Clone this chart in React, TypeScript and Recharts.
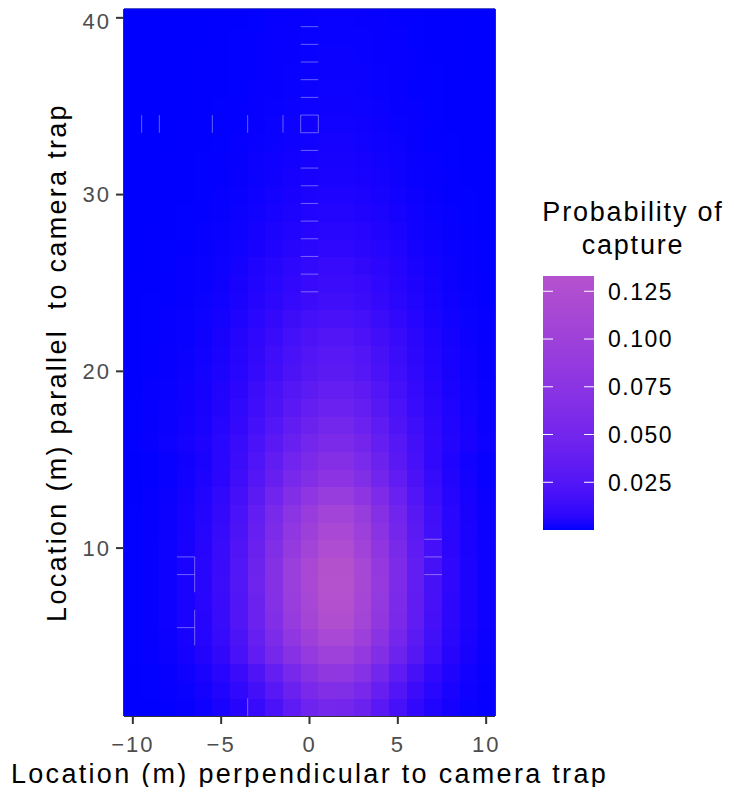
import React from 'react';
import { ScatterChart, Scatter, XAxis, YAxis, ReferenceLine } from 'recharts';

// Grid of locations (metres)
const xLocations = [-10, -9, -8, -7, -6, -5, -4, -3, -2, -1, 0, 1, 2, 3, 4, 5, 6, 7, 8, 9, 10];
const yLocations = [
  1, 2, 3, 4, 5, 6, 7, 8, 9, 10, 11, 12, 13, 14, 15, 16, 17, 18, 19, 20,
  21, 22, 23, 24, 25, 26, 27, 28, 29, 30, 31, 32, 33, 34, 35, 36, 37, 38, 39, 40,
];

// Probability of capture, in units of 1e-4; one row per y location (y = 1 first),
// one column per x location (x = -10 first)
const captureProbability = [
  [1, 1, 3, 6, 13, 29, 60, 114, 208, 328, 452, 520, 515, 437, 302, 177, 94, 44, 21, 9, 4],
  [1, 2, 4, 9, 20, 42, 87, 163, 280, 423, 566, 650, 645, 548, 390, 240, 130, 65, 29, 13, 6],
  [1, 2, 6, 14, 30, 62, 125, 230, 377, 549, 709, 820, 815, 693, 504, 324, 185, 90, 41, 17, 7],
  [2, 4, 10, 22, 47, 95, 190, 340, 520, 710, 860, 1000, 1000, 850, 650, 450, 270, 140, 60, 25, 10],
  [2, 5, 11, 25, 54, 108, 217, 388, 593, 809, 980, 1140, 1140, 969, 741, 513, 308, 160, 68, 29, 11],
  [2, 5, 13, 28, 59, 120, 239, 428, 655, 895, 1084, 1260, 1260, 1071, 819, 567, 340, 176, 76, 32, 13],
  [2, 5, 13, 29, 61, 124, 247, 442, 676, 923, 1118, 1300, 1300, 1105, 845, 585, 351, 182, 78, 33, 13],
  [2, 5, 13, 29, 63, 126, 253, 452, 692, 944, 1144, 1330, 1330, 1131, 865, 599, 359, 186, 80, 33, 13],
  [2, 5, 13, 29, 62, 125, 251, 449, 686, 937, 1135, 1320, 1320, 1122, 858, 594, 356, 185, 79, 33, 13],
  [2, 5, 12, 27, 58, 117, 234, 418, 640, 873, 1058, 1230, 1230, 1046, 800, 554, 332, 172, 74, 31, 12],
  [2, 5, 11, 25, 54, 108, 217, 388, 593, 809, 980, 1140, 1140, 969, 741, 513, 308, 160, 68, 29, 11],
  [2, 4, 11, 23, 50, 101, 201, 360, 551, 753, 912, 1060, 1060, 901, 689, 477, 286, 148, 64, 27, 11],
  [1, 4, 9, 20, 43, 87, 175, 313, 478, 653, 791, 920, 920, 782, 598, 414, 248, 129, 55, 23, 9],
  [1, 3, 8, 17, 36, 72, 144, 258, 395, 540, 654, 760, 760, 646, 494, 342, 205, 106, 46, 19, 8],
  [1, 3, 7, 15, 31, 64, 127, 228, 348, 476, 576, 670, 670, 570, 436, 302, 181, 94, 40, 17, 7],
  [2, 6, 12, 20, 35, 64, 116, 197, 296, 406, 505, 580, 580, 499, 383, 267, 162, 93, 49, 26, 12],
  [2, 5, 10, 18, 30, 55, 100, 170, 255, 350, 435, 500, 500, 430, 330, 230, 140, 80, 43, 23, 10],
  [2, 4, 9, 15, 26, 47, 86, 146, 219, 301, 374, 430, 430, 370, 284, 198, 120, 69, 37, 19, 9],
  [1, 4, 7, 13, 22, 41, 74, 126, 189, 259, 322, 370, 370, 318, 244, 170, 104, 59, 31, 17, 7],
  [1, 3, 6, 11, 19, 34, 62, 105, 158, 217, 270, 310, 310, 267, 205, 143, 87, 50, 26, 14, 6],
  [1, 3, 6, 10, 17, 31, 56, 95, 143, 196, 244, 280, 280, 241, 185, 129, 78, 45, 24, 13, 6],
  [1, 2, 5, 8, 14, 26, 48, 82, 122, 168, 209, 240, 240, 206, 158, 110, 67, 38, 20, 11, 5],
  [1, 2, 4, 7, 12, 21, 39, 66, 99, 137, 170, 195, 195, 168, 129, 90, 55, 31, 17, 9, 4],
  [1, 2, 3, 5, 9, 17, 30, 51, 77, 105, 131, 150, 150, 129, 99, 69, 42, 24, 13, 7, 3],
  [1, 1, 3, 4, 8, 14, 26, 44, 65, 90, 111, 128, 128, 110, 84, 59, 36, 20, 11, 6, 3],
  [0, 1, 2, 4, 7, 12, 22, 37, 56, 77, 96, 110, 110, 95, 73, 51, 31, 18, 9, 5, 2],
  [0, 1, 2, 3, 5, 9, 16, 27, 41, 56, 70, 80, 80, 69, 53, 37, 22, 13, 7, 4, 2],
  [0, 1, 1, 2, 4, 7, 12, 21, 32, 43, 54, 62, 62, 53, 41, 29, 17, 10, 5, 3, 1],
  [0, 0, 1, 2, 3, 5, 10, 16, 24, 34, 42, 48, 48, 41, 32, 22, 13, 8, 4, 2, 1],
  [0, 0, 1, 1, 2, 4, 8, 13, 19, 27, 33, 38, 38, 33, 25, 17, 11, 6, 3, 2, 1],
  [0, 0, 1, 1, 2, 3, 6, 10, 15, 21, 26, 30, 30, 26, 20, 14, 8, 5, 3, 1, 1],
  [0, 0, 1, 1, 2, 3, 5, 9, 13, 18, 22, 25, 25, 22, 17, 12, 7, 4, 2, 1, 1],
  [0, 0, 0, 1, 1, 2, 4, 7, 10, 14, 17, 20, 20, 17, 13, 9, 6, 3, 2, 1, 0],
  [0, 0, 0, 1, 1, 2, 3, 6, 9, 12, 15, 17, 17, 15, 11, 8, 5, 3, 1, 1, 0],
  [0, 0, 0, 0, 1, 2, 3, 5, 7, 10, 12, 14, 14, 12, 9, 6, 4, 2, 1, 1, 0],
  [0, 0, 0, 0, 1, 1, 2, 4, 6, 8, 10, 12, 12, 10, 8, 6, 3, 2, 1, 1, 0],
  [0, 0, 0, 0, 1, 1, 2, 3, 5, 7, 9, 10, 10, 9, 7, 5, 3, 2, 1, 0, 0],
  [0, 0, 0, 0, 1, 1, 2, 3, 5, 6, 8, 9, 9, 8, 6, 4, 3, 1, 1, 0, 0],
  [0, 0, 0, 0, 0, 1, 2, 3, 4, 6, 7, 8, 8, 7, 5, 4, 2, 1, 1, 0, 0],
  [0, 0, 0, 0, 0, 1, 1, 2, 4, 5, 6, 7, 7, 6, 5, 3, 2, 1, 1, 0, 0],
];
const PROBABILITY_UNIT = 1e-4;

// Faint tile seams, as [x1, y1, x2, y2] in data units
const tileSeams = [
  [-0.5, 39.5, 0.5, 39.5], [-0.5, 38.5, 0.5, 38.5], [-0.5, 37.5, 0.5, 37.5],
  [-0.5, 36.5, 0.5, 36.5], [-0.5, 35.5, 0.5, 35.5], [-0.5, 34.5, 0.5, 34.5],
  [-0.5, 33.5, 0.5, 33.5], [-0.5, 33.5, -0.5, 34.5], [0.5, 33.5, 0.5, 34.5],
  [-9.5, 33.5, -9.5, 34.5], [-8.5, 33.5, -8.5, 34.5], [-5.5, 33.5, -5.5, 34.5],
  [-3.5, 33.5, -3.5, 34.5], [-1.5, 33.5, -1.5, 34.5],
  [-0.5, 32.5, 0.5, 32.5], [-0.5, 31.5, 0.5, 31.5], [-0.5, 30.5, 0.5, 30.5],
  [-0.5, 29.5, 0.5, 29.5], [-0.5, 28.5, 0.5, 28.5], [-0.5, 27.5, 0.5, 27.5],
  [-0.5, 26.5, 0.5, 26.5], [-0.5, 25.5, 0.5, 25.5], [-0.5, 24.5, 0.5, 24.5],
  [6.5, 10.5, 7.5, 10.5], [6.5, 9.5, 7.5, 9.5], [6.5, 8.5, 7.5, 8.5],
  [-7.5, 9.5, -6.5, 9.5], [-7.5, 8.5, -6.5, 8.5], [-6.5, 7.5, -6.5, 9.5],
  [-7.5, 5.5, -6.5, 5.5], [-6.5, 4.5, -6.5, 6.5],
  [-3.5, 0.5, -3.5, 1.5],
];

const xTicks = [-10, -5, 0, 5, 10];
const yTicks = [10, 20, 30, 40];
const legendTicks = [0.025, 0.05, 0.075, 0.1, 0.125];
const legendLabels = ['0.025', '0.050', '0.075', '0.100', '0.125'];

const LOW_COLOR = '#0000FF';
const HIGH_COLOR = '#B452CD';

// ---- colour ramp interpolated in CIELAB ----
const WHITE = [0.95047, 1, 1.08883];
const toLinear = (c: number) => {
  const v = c / 255;
  return v <= 0.04045 ? v / 12.92 : Math.pow((v + 0.055) / 1.055, 2.4);
};
const fromLinear = (c: number) => {
  const v = Math.min(1, Math.max(0, c));
  const s = v <= 0.0031308 ? 12.92 * v : 1.055 * Math.pow(v, 1 / 2.4) - 0.055;
  return Math.round(s * 255);
};
const fLab = (t: number) => (t > 216 / 24389 ? Math.cbrt(t) : (24389 / 27 * t + 16) / 116);
const fLabInv = (t: number) => (t * t * t > 216 / 24389 ? t * t * t : (116 * t - 16) / (24389 / 27));

function hexToLab(hex: string): [number, number, number] {
  const r = toLinear(parseInt(hex.slice(1, 3), 16));
  const g = toLinear(parseInt(hex.slice(3, 5), 16));
  const b = toLinear(parseInt(hex.slice(5, 7), 16));
  const X = 0.4124564 * r + 0.3575761 * g + 0.1804375 * b;
  const Y = 0.2126729 * r + 0.7151522 * g + 0.072175 * b;
  const Z = 0.0193339 * r + 0.119192 * g + 0.9503041 * b;
  const fx = fLab(X / WHITE[0]);
  const fy = fLab(Y / WHITE[1]);
  const fz = fLab(Z / WHITE[2]);
  return [116 * fy - 16, 500 * (fx - fy), 200 * (fy - fz)];
}

function labToHex(L: number, a: number, bb: number): string {
  const fy = (L + 16) / 116;
  const fx = fy + a / 500;
  const fz = fy - bb / 200;
  const X = WHITE[0] * fLabInv(fx);
  const Y = WHITE[1] * fLabInv(fy);
  const Z = WHITE[2] * fLabInv(fz);
  const r = 3.2404542 * X - 1.5371385 * Y - 0.4985314 * Z;
  const g = -0.969266 * X + 1.8760108 * Y + 0.041556 * Z;
  const b = 0.0556434 * X - 0.2040259 * Y + 1.0572252 * Z;
  const h = (n: number) => fromLinear(n).toString(16).padStart(2, '0');
  return `#${h(r)}${h(g)}${h(b)}`;
}

const LOW_LAB = hexToLab(LOW_COLOR);
const HIGH_LAB = hexToLab(HIGH_COLOR);

const allValues = captureProbability.flat().map((v) => v * PROBABILITY_UNIT);
const FILL_MIN = Math.min(...allValues);
const FILL_MAX = Math.max(...allValues);

function fillFor(p: number): string {
  const t = Math.min(1, Math.max(0, (p - FILL_MIN) / (FILL_MAX - FILL_MIN)));
  return labToHex(
    LOW_LAB[0] + (HIGH_LAB[0] - LOW_LAB[0]) * t,
    LOW_LAB[1] + (HIGH_LAB[1] - LOW_LAB[1]) * t,
    LOW_LAB[2] + (HIGH_LAB[2] - LOW_LAB[2]) * t,
  );
}

// ---- records for the two scatter layers ----
const tiles = yLocations.flatMap((y, row) =>
  xLocations.map((x, col) => ({ x, y, p: captureProbability[row][col] * PROBABILITY_UNIT })),
);
const seams = tileSeams.map(([x1, y1, x2, y2]) => ({
  x: (x1 + x2) / 2,
  y: (y1 + y2) / 2,
  dx: x2 - x1,
  dy: y2 - y1,
}));

// ---- layout ----
const CHART_W = 718;
const CHART_H = 779;
const MARGIN = { top: 1, right: 231, bottom: 0, left: 0 };
const Y_AXIS_W = 116;
const X_AXIS_H = 71;
const X_DOMAIN: [number, number] = [-10.5, 10.5];
const Y_DOMAIN: [number, number] = [0.5, 40.5];
const PLOT_LEFT = MARGIN.left + Y_AXIS_W;
const PLOT_W = CHART_W - MARGIN.right - PLOT_LEFT;
const PLOT_TOP = MARGIN.top;
const PLOT_H = CHART_H - MARGIN.bottom - X_AXIS_H - PLOT_TOP;
const CELL_W = PLOT_W / (X_DOMAIN[1] - X_DOMAIN[0]);
const CELL_H = PLOT_H / (Y_DOMAIN[1] - Y_DOMAIN[0]);

const FONT = '"Liberation Sans", Arial, Helvetica, sans-serif';
const AXIS_DARK = '#333333';
const TICK_TEXT = '#4D4D4D';

const Tile = (props: any) => {
  const { cx, cy, payload } = props;
  if (cx == null || cy == null) return null;
  return (
    <rect
      x={cx - CELL_W / 2}
      y={cy - CELL_H / 2}
      width={CELL_W + 1}
      height={CELL_H + 1}
      fill={fillFor(payload.p)}
      stroke="none"
      shapeRendering="crispEdges"
    />
  );
};

const Seam = (props: any) => {
  const { cx, cy, payload } = props;
  if (cx == null || cy == null) return null;
  const hx = (payload.dx * CELL_W) / 2;
  const hy = (payload.dy * CELL_H) / 2;
  return (
    <line
      x1={cx - hx}
      x2={cx + hx}
      y1={cy + hy}
      y2={cy - hy}
      stroke="#FFFFFF"
      strokeOpacity={0.38}
      strokeWidth={1}
    />
  );
};

const formatX = (v: number) => (v < 0 ? `\u2212${Math.abs(v)}` : `${v}`);

// ---- colour bar legend ----
const BAR = { x: 535, y: 268, w: 51, h: 254 };
const gradientStops = Array.from({ length: 21 }, (_, i) => i / 20);

const ColourBar = () => {
  const valueToY = (v: number) => BAR.y + BAR.h - ((v - FILL_MIN) / (FILL_MAX - FILL_MIN)) * BAR.h;
  return (
    <g>
      <defs>
        <linearGradient id="captureRamp" x1="0" y1="1" x2="0" y2="0">
          {gradientStops.map((s) => (
            <stop key={s} offset={s} stopColor={fillFor(FILL_MIN + s * (FILL_MAX - FILL_MIN))} />
          ))}
        </linearGradient>
      </defs>
      <text x={625} y={213} textAnchor="middle" fontSize={27} letterSpacing={1.8} fill="#000" fontFamily={FONT}>
        Probability of
      </text>
      <text x={625} y={246} textAnchor="middle" fontSize={27} letterSpacing={1.8} fill="#000" fontFamily={FONT}>
        capture
      </text>
      <rect x={BAR.x} y={BAR.y} width={BAR.w} height={BAR.h} fill="url(#captureRamp)" />
      {legendTicks.map((v, i) => {
        const ty = valueToY(v);
        return (
          <g key={v}>
            <line x1={BAR.x} x2={BAR.x + 10} y1={ty} y2={ty} stroke="#FFFFFF" strokeWidth={1} />
            <line x1={BAR.x + BAR.w - 10} x2={BAR.x + BAR.w} y1={ty} y2={ty} stroke="#FFFFFF" strokeWidth={1} />
            <text x={600} y={ty} dy="0.36em" fontSize={23} letterSpacing={1.5} fill="#000" fontFamily={FONT}>
              {legendLabels[i]}
            </text>
          </g>
        );
      })}
    </g>
  );
};

export default function App() {
  return (
    <div style={{ position: 'relative', width: CHART_W, height: CHART_H, fontFamily: FONT }}>
      <ScatterChart width={CHART_W} height={CHART_H} margin={MARGIN}>
        <XAxis
          type="number"
          dataKey="x"
          domain={X_DOMAIN}
          ticks={xTicks}
          allowDataOverflow
          tickFormatter={formatX}
          height={X_AXIS_H}
          tickSize={8}
          tickMargin={12}
          axisLine={{ stroke: AXIS_DARK, strokeWidth: 2 }}
          tickLine={{ stroke: AXIS_DARK, strokeWidth: 2 }}
          tick={{ fill: TICK_TEXT, fontSize: 22, letterSpacing: 2, fontFamily: FONT }}
        />
        <YAxis
          type="number"
          dataKey="y"
          domain={Y_DOMAIN}
          ticks={yTicks}
          allowDataOverflow
          width={Y_AXIS_W}
          tickSize={8}
          tickMargin={5}
          axisLine={{ stroke: AXIS_DARK, strokeWidth: 2 }}
          tickLine={{ stroke: AXIS_DARK, strokeWidth: 2 }}
          tick={{ fill: TICK_TEXT, fontSize: 22, letterSpacing: 2, fontFamily: FONT }}
        />
        <Scatter data={tiles} shape={<Tile />} isAnimationActive={false} />
        <Scatter data={seams} shape={<Seam />} isAnimationActive={false} />
        <ReferenceLine x={10.5} stroke={AXIS_DARK} strokeWidth={2} />
        <ReferenceLine y={40.5} stroke="#1b1ba8" strokeWidth={1.5} />
      </ScatterChart>
      <svg
        width={CHART_W}
        height={CHART_H}
        style={{ position: 'absolute', left: 0, top: 0, pointerEvents: 'none', overflow: 'visible' }}
      >
        <text
          x={PLOT_LEFT + PLOT_W / 2}
          y={775}
          textAnchor="middle"
          fontSize={27}
          letterSpacing={2.3}
          fill="#000"
          fontFamily={FONT}
        >
          Location (m) perpendicular to camera trap
        </text>
        <text
          transform={`translate(58, ${PLOT_TOP + PLOT_H / 2}) rotate(-90)`}
          textAnchor="middle"
          fontSize={27}
          letterSpacing={2.3}
          fill="#000"
          fontFamily={FONT}
          style={{ whiteSpace: 'pre' }}
        >
          {'Location (m) parallel  to camera trap'}
        </text>
        <ColourBar />
      </svg>
    </div>
  );
}
